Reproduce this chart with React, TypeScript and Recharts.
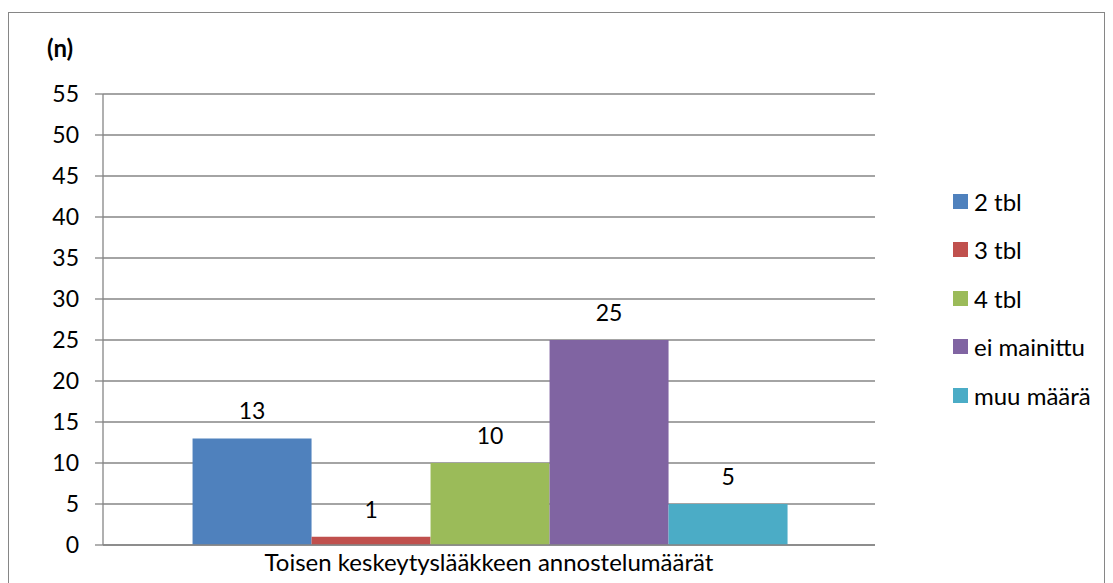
import { BarChart, Bar, XAxis, YAxis, CartesianGrid, LabelList } from 'recharts';

const categories = ['Toisen keskeytyslääkkeen annostelumäärät'];
const seriesNames = ['2 tbl', '3 tbl', '4 tbl', 'ei mainittu', 'muu määrä'];
const seriesValues = [13, 1, 10, 25, 5];
const seriesColors = ['#4F81BD', '#C0504D', '#9BBB59', '#8064A2', '#4BACC6'];
const yTicks = [0, 5, 10, 15, 20, 25, 30, 35, 40, 45, 50, 55];

const FONT = 'Lato, "Open Sans", sans-serif';

const chartData = categories.map(category => {
  const row: Record<string, string | number> = { category };
  seriesNames.forEach((name, i) => {
    row[name] = seriesValues[i];
  });
  return row;
});

export default function App() {
  return (
    <div
      style={{
        position: 'relative',
        marginTop: 4,
        width: 1095,
        height: 580,
        border: '1px solid #868686',
        fontFamily: FONT,
      }}
    >
      <div
        style={{
          position: 'absolute',
          left: 38,
          top: 20,
          fontSize: 24,
          fontWeight: 'bold',
          color: '#000',
        }}
      >
        (n)
      </div>
      {/* legend kept outside the chart so it doesn't eat plot space */}
      <div
        style={{
          position: 'absolute',
          left: 944,
          top: 164,
          fontSize: 24,
          color: '#000',
        }}
      >
        {seriesNames.map((name, i) => (
          <div key={name} style={{ display: 'flex', alignItems: 'center', height: 48.5 }}>
            <span style={{ width: 15, height: 15, background: seriesColors[i], marginRight: 6 }} />
            <span>{name}</span>
          </div>
        ))}
      </div>
      <BarChart
        width={1095}
        height={580}
        data={chartData}
        margin={{ top: 81, right: 229, left: 0, bottom: 0 }}
        barCategoryGap="11.6%"
        barGap={0}
      >
        <CartesianGrid vertical={false} stroke="#868686" strokeWidth={1.3} />
        <XAxis
          dataKey="category"
          height={48}
          tickSize={0}
          tickMargin={9}
          axisLine={{ stroke: '#868686', strokeWidth: 1.3 }}
          tick={{ fill: '#000', fontSize: 24, fontFamily: FONT }}
        />
        <YAxis
          width={94}
          domain={[0, 55]}
          ticks={yTicks}
          interval={0}
          tickSize={8}
          tickMargin={16}
          axisLine={{ stroke: '#868686', strokeWidth: 1.3 }}
          tickLine={{ stroke: '#868686', strokeWidth: 1.3 }}
          tick={{ fill: '#000', fontSize: 23, fontFamily: FONT }}
        />
        {seriesNames.map((name, i) => (
          <Bar key={name} dataKey={name} fill={seriesColors[i]} isAnimationActive={false}>
            <LabelList
              dataKey={name}
              position="top"
              offset={19}
              style={{ fill: '#000', fontSize: 23, fontFamily: FONT }}
            />
          </Bar>
        ))}
      </BarChart>
    </div>
  );
}
